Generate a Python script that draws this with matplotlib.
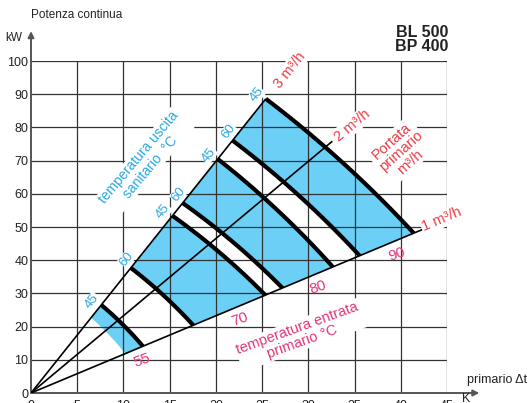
import matplotlib.pyplot as plt
import numpy as np

plt.rcParams['font.family'] = ['Liberation Sans', 'DejaVu Sans']

# power = 1.163 * flow (m3/h) * dt (K)
k_water = 1.163
flows = [3, 2, 1]
flow_dt_end = [25.4, 32.6, 42.4]
flow_labels = ['3 m³/h', '2 m³/h', '1 m³/h']

# thick curves, from the 3 m3/h line (top) to the 1 m3/h line (bottom)
san_temp = [45, 60, 45, 60, 45, 60, 45]
dt_top = [7.6, 10.8, 15.3, 16.4, 20.2, 21.8, 25.4]
dt_bot = [12.1, 17.55, 25.35, 27.2, 32.65, 35.55, 41.4]

# blue bands (one per primary inlet temperature)
prim_temp = [55, 70, 80, 90]
band_left_top = [6.5, 10.8, 16.4, 21.8]
band_left_bot = [10.2, 17.55, 27.2, 35.55]
band_right_top = [7.6, 15.3, 20.2, 25.4]
band_right_bot = [12.1, 25.35, 32.65, 41.4]
prim_label_dt = [12.0, 22.6, 31.0, 39.6]

xticks = [0, 5, 10, 15, 20, 25, 30, 35, 40, 45]
yticks = [0, 10, 20, 30, 40, 50, 60, 70, 80, 90, 100]

blue = '#6ccff6'
blue_txt = '#29a8e0'
red = '#ec3a45'
pink = '#e3347a'
grid_c = '#333333'

fig = plt.figure(figsize=(5.29, 4.03), dpi=100)
ax = fig.add_axes([31 / 529, 10 / 403, 416 / 529, 332 / 403])
ax.set_xlim(0, 45)
ax.set_ylim(0, 100)
for s in ax.spines.values():
    s.set_visible(False)


def curve(t0, t1, bow=0.022, n=40):
    p0 = ax.transData.transform((t0, k_water * flows[0] * t0))
    p1 = ax.transData.transform((t1, k_water * flows[2] * t1))
    d = p1 - p0
    c = (p0 + p1) / 2 + np.array([-d[1], d[0]]) * bow * 2
    s = np.linspace(0, 1, n)[:, None]
    pts = (1 - s) ** 2 * p0 + 2 * (1 - s) * s * c + s ** 2 * p1
    return ax.transData.inverted().transform(pts)


def screen_angle(slope):
    p = ax.transData.transform((1, slope)) - ax.transData.transform((0, 0))
    return np.degrees(np.arctan2(p[1], p[0]))


# blue bands
for lt, lb, rt, rb in zip(band_left_top, band_left_bot, band_right_top, band_right_bot):
    left = curve(lt, lb)
    right = curve(rt, rb)
    poly = np.vstack([left, right[::-1]])
    ax.fill(poly[:, 0], poly[:, 1], color=blue, lw=0, zorder=1)

# grid
for x in xticks[1:]:
    ax.plot([x, x], [0, 100], color=grid_c, lw=0.9, zorder=2)
for y in yticks[1:]:
    ax.plot([0, 45], [y, y], color=grid_c, lw=0.9, zorder=2)

# axes with arrows
ax.annotate('', xy=(0, 109), xytext=(0, 0), annotation_clip=False,
            arrowprops=dict(arrowstyle='-|>', color='#555555', lw=1.4,
                            mutation_scale=9, shrinkA=0, shrinkB=0), zorder=3)
ax.annotate('', xy=(48.5, 0), xytext=(0, 0), annotation_clip=False,
            arrowprops=dict(arrowstyle='-|>', color='#555555', lw=1.4,
                            mutation_scale=9, shrinkA=0, shrinkB=0), zorder=3)

# flow lines from origin
for f, te in zip(flows, flow_dt_end):
    ax.plot([0, te], [0, k_water * f * te], color='black', lw=1.2, zorder=3,
            solid_capstyle='butt')

# thick curves
for t0, t1 in zip(dt_top, dt_bot):
    c = curve(t0, t1)
    ax.plot(c[:, 0], c[:, 1], color='black', lw=3.0, zorder=4,
            solid_capstyle='butt')

wbox = dict(facecolor='white', edgecolor='none', pad=1.0)
ang_top = screen_angle(k_water * flows[0])
ang_mid = screen_angle(k_water * flows[1])
ang_bot = screen_angle(k_water * flows[2])

# sanitary temperature labels along the top line
for st, t0 in zip(san_temp, dt_top):
    off = (-9, 4) if st == 45 else (-4, 9)
    ax.annotate(str(st), xy=(t0, k_water * 3 * t0), xytext=off,
                textcoords='offset pixels', ha='center', va='center',
                rotation=ang_top, color=blue_txt, fontsize=9.5, zorder=5,
                bbox=dict(facecolor='white', edgecolor='none', pad=0.3))

# primary temperature labels along bottom line
for pt, t in zip(prim_temp, prim_label_dt):
    ax.annotate(str(pt), xy=(t, k_water * t), xytext=(0, -14),
                textcoords='offset pixels', ha='center', va='center',
                rotation=20, color=pink, fontsize=11, zorder=5)

# flow labels at line ends
flow_offsets = [(24, 29), (20, 16), (19, 10)]
for f, te, lab, off, ang in zip(flows, flow_dt_end, flow_labels, flow_offsets,
                                [ang_top, ang_mid, ang_bot]):
    ax.annotate(lab, xy=(te, k_water * f * te), xytext=off,
                textcoords='offset pixels', ha='center', va='center',
                rotation=ang, color=red, fontsize=10.5, zorder=5, bbox=wbox)

ax.text(12.3, 69.5, 'temperatura uscita\nsanitario  °C', rotation=50,
        rotation_mode='anchor', ha='center', va='center', multialignment='center',
        color=blue_txt, fontsize=10, linespacing=1.05, zorder=5, bbox=wbox)
ax.text(40.0, 72.8, 'Portata\nprimario\nm³/h', rotation=42,
        rotation_mode='anchor', ha='center', va='center', multialignment='center',
        color=red, fontsize=10.5, linespacing=1.0, zorder=5, bbox=wbox)
ax.text(29.1, 17.5, 'temperatura entrata\nprimario °C', rotation=20,
        rotation_mode='anchor', ha='center', va='center', multialignment='center',
        color=pink, fontsize=10.5, linespacing=1.0, zorder=5, bbox=wbox)

# ticks
ax.set_xticks(xticks)
ax.set_xticklabels([str(v) for v in xticks])
ax.set_yticks(yticks)
ax.set_yticklabels([str(v) for v in yticks])
ax.tick_params(axis='both', length=0, labelsize=9, colors='#222222')
ax.tick_params(axis='x', pad=5)
ax.tick_params(axis='y', pad=2)
ax.text(46.6, 0, 'K', transform=ax.transData, ha='left', va='top',
        fontsize=9, color='#222222')
ax.text(47.2, 4.0, 'primario Δt', ha='left', va='center', fontsize=9,
        color='#222222', clip_on=False)

fig.text(31 / 529, 1 - 15 / 403, 'Potenza continua', ha='left', va='center',
         fontsize=8.5, color='#222222')
fig.text(5 / 529, 1 - 38 / 403, 'kW', ha='left', va='center', fontsize=8.5,
         color='#222222')
fig.text(448 / 529, 1 - 25 / 403, 'BL 500\nBP 400', ha='right', va='top',
         fontsize=11.5, fontweight='bold', linespacing=0.95, color='#222222')

fig.savefig('out.png', dpi=100)
